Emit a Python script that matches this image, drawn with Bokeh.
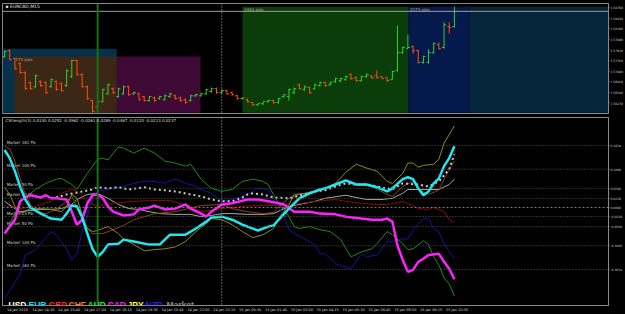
from bokeh.plotting import figure
from bokeh.models import Range1d, Span, Label, FixedTicker, PrintfTickFormatter, ColumnDataSource
from bokeh.layouts import column
from bokeh.embed import file_html
from bokeh.resources import INLINE
from bokeh.core.properties import value

# ---------------- price bars (EURCAD, M15) ----------------
OPEN = [1.5745,1.5760,1.5740,1.5727,1.5704,1.5679,1.5668,1.5681,1.5679,1.5668,
        1.5681,1.5676,1.5671,1.5694,1.5735,1.5699,1.5668,1.5633,1.5617,1.5630,
        1.5650,1.5663,1.5643,1.5650,1.5668,1.5650,1.5650,1.5643,1.5633,1.5640,
        1.5638,1.5635,1.5643,1.5645,1.5640,1.5635,1.5633,1.5645,1.5645,1.5650,
        1.5656,1.5663,1.5653,1.5658,1.5653,1.5645,1.5638,1.5635,1.5628,1.5622,
        1.5625,1.5630,1.5633,1.5628,1.5643,1.5643,1.5653,1.5673,1.5661,1.5666,
        1.5663,1.5671,1.5679,1.5673,1.5681,1.5684,1.5686,1.5699,1.5691,1.5684,
        1.5694,1.5696,1.5696,1.5694,1.5691,1.5686,1.5709,1.5755,1.5765,1.5770,
        1.5760,1.5730,1.5730,1.5755,1.5775,1.5768,1.5821,1.5821]
HIGH = [1.5760,1.5763,1.5742,1.5730,1.5707,1.5681,1.5699,1.5684,1.5681,1.5689,
        1.5684,1.5679,1.5712,1.5737,1.5737,1.5702,1.5671,1.5635,1.5633,1.5663,
        1.5676,1.5666,1.5666,1.5671,1.5671,1.5656,1.5653,1.5645,1.5645,1.5643,
        1.5645,1.5648,1.5653,1.5648,1.5643,1.5638,1.5648,1.5650,1.5653,1.5663,
        1.5666,1.5666,1.5661,1.5661,1.5656,1.5648,1.5640,1.5638,1.5628,1.5625,
        1.5630,1.5635,1.5635,1.5640,1.5648,1.5663,1.5666,1.5676,1.5671,1.5668,
        1.5676,1.5681,1.5681,1.5681,1.5691,1.5691,1.5696,1.5702,1.5694,1.5696,
        1.5702,1.5696,1.5709,1.5694,1.5691,1.5709,1.5824,1.5770,1.5801,1.5773,
        1.5763,1.5747,1.5763,1.5781,1.5781,1.5832,1.5832,1.5872]
LOW = [1.5742,1.5735,1.5712,1.5702,1.5661,1.5661,1.5666,1.5668,1.5650,1.5666,
       1.5658,1.5656,1.5668,1.5691,1.5696,1.5666,1.5635,1.5602,1.5615,1.5628,
       1.5648,1.5650,1.5640,1.5648,1.5645,1.5648,1.5633,1.5630,1.5630,1.5630,
       1.5635,1.5633,1.5640,1.5635,1.5630,1.5625,1.5630,1.5643,1.5643,1.5648,
       1.5653,1.5650,1.5650,1.5648,1.5645,1.5635,1.5635,1.5628,1.5620,1.5620,
       1.5622,1.5628,1.5625,1.5625,1.5640,1.5633,1.5650,1.5661,1.5658,1.5650,
       1.5661,1.5668,1.5668,1.5671,1.5679,1.5679,1.5684,1.5686,1.5681,1.5681,
       1.5691,1.5689,1.5689,1.5689,1.5681,1.5686,1.5707,1.5752,1.5765,1.5752,
       1.5727,1.5727,1.5727,1.5752,1.5763,1.5765,1.5804,1.5819]
CLOSE = [1.5758,1.5737,1.5714,1.5704,1.5663,1.5663,1.5696,1.5671,1.5653,1.5686,
         1.5661,1.5658,1.5709,1.5735,1.5699,1.5668,1.5638,1.5605,1.5630,1.5661,
         1.5673,1.5653,1.5663,1.5668,1.5648,1.5653,1.5635,1.5633,1.5643,1.5633,
         1.5643,1.5645,1.5650,1.5638,1.5633,1.5628,1.5645,1.5648,1.5650,1.5661,
         1.5663,1.5653,1.5658,1.5650,1.5648,1.5638,1.5640,1.5630,1.5622,1.5625,
         1.5630,1.5633,1.5628,1.5638,1.5648,1.5661,1.5663,1.5663,1.5668,1.5653,
         1.5673,1.5679,1.5671,1.5679,1.5689,1.5689,1.5694,1.5689,1.5684,1.5694,
         1.5699,1.5691,1.5691,1.5689,1.5684,1.5707,1.5755,1.5768,1.5768,1.5760,
         1.5730,1.5745,1.5755,1.5778,1.5765,1.5826,1.5819,1.5860]
BID = 1.5860
PRICE_TICKS = [1.5627,1.5654,1.5681,1.5708,1.5735,1.5762,1.5789,1.5816,1.5843,1.5870]

# session / zone boxes (bar index, price)
ZONE_LEFT  = [-0.4, 1.9, 21.7, 46.0, 78.1, 90.0]
ZONE_RIGHT = [21.7, 21.7, 37.9, 78.1, 90.0, 117.0]
ZONE_TOP   = [1.5765, 1.5745, 1.5745, 1.5872, 1.5872, 1.5872]
ZONE_COLOR = ["#07304a", "#3c2716", "#3f0936", "#0a3d0a", "#06194c", "#05263b"]
ZONE_TEXT_X = [2.1, 46.3, 78.4]
ZONE_TEXT_Y = [1.5744, 1.5871, 1.5871]
ZONE_TEXT = ["173 pips", "2463 pips", "2173 pips"]

# ---------------- currency strength (CStrength(3)) ----------------
USD_X = [9,10,12,14,17,18,20,22,24,27,29,31,33,36,38,40,42,44,46,47,48,50,52,55,58,60,62,64,66,68,70,72,75,77,80,82,84,86,87]
USD_V = [0.024,0.026,0.034,0.039,0.047,0.053,0.050,0.053,0.047,0.053,0.047,0.045,0.042,0.034,0.029,0.021,0.016,0.016,0.026,0.034,
         0.037,0.034,0.026,0.024,0.034,0.042,0.045,0.055,0.063,0.060,0.060,0.055,0.047,0.063,0.060,0.055,0.068,0.100,0.139]
EUR_X = [0,1,2,3,4,5,7,9,11,12,13,14,15,16,17,18,19,20,22,23,25,28,30,32,35,37,39,40,42,44,46,49,51,52,53,55,57,59,61,62,64,66,68,70,72,74,75,77,78,79,80,81,82,83,84,85,86,87]
EUR_V = [0.150,0.129,0.095,0.055,0.021,0.000,-0.016,-0.029,-0.032,-0.016,0.005,0.003,-0.026,-0.068,-0.108,-0.129,-0.116,-0.097,
         -0.095,-0.084,-0.089,-0.097,-0.097,-0.071,-0.071,-0.055,-0.037,-0.026,-0.024,-0.032,-0.045,-0.060,-0.050,-0.047,-0.032,-0.003,
         0.024,0.037,0.047,0.050,0.060,0.071,0.060,0.060,0.053,0.042,0.050,0.074,0.079,0.074,0.050,0.032,0.042,0.063,0.076,0.108,0.129,0.160]
GBP_X = [0,3,6,9,11,13,14,16,18,21,25,28,32,36,38,42,46,50,53,56,60,64,66,69,72,74,76,77,79,80,82,83,84,85,86,87]
GBP_V = [0.005,-0.003,0.003,0.016,0.037,0.047,0.042,0.016,0.003,0.011,0.016,0.018,0.018,0.003,-0.011,-0.003,0.003,0.005,0.005,0.008,
         0.016,0.021,0.016,0.011,0.008,0.008,0.013,0.016,0.005,-0.003,-0.005,0.000,-0.005,-0.011,-0.032,-0.039]
CHF_X = [0,1,2,3,4,5,6,8,10,12,13,14,16,17,19,21,23,25,27,29,33,38,42,44,47,50,52,53,55,57,59,62,64,66,68,71,74,75,77,79,80,82,84,85,86,87]
CHF_V = [0.160,0.153,0.121,0.076,0.034,0.008,-0.011,-0.016,-0.005,0.016,0.029,0.003,-0.055,-0.068,-0.068,-0.058,-0.047,-0.032,-0.024,-0.016,
         -0.011,0.005,0.008,-0.003,-0.011,-0.016,-0.013,0.003,0.024,0.034,0.037,0.047,0.060,0.068,0.060,0.055,0.034,0.029,0.055,0.068,
         0.047,0.034,0.045,0.074,0.100,0.121]
AUD_X = [0,2,3,6,8,10,11,13,14,16,18,19,20,22,23,25,27,29,31,33,35,36,38,40,42,44,46,48,50,51,52,53,55,56,57,59,61,63,65,67,69,71,72,74,75,77,78,79,81,82,83,84,85,86,87]
AUD_V = [-0.068,-0.016,0.016,0.047,0.063,0.074,0.076,0.060,0.047,0.089,0.126,0.129,0.124,0.158,0.155,0.142,0.155,0.142,0.121,0.116,
         0.108,0.113,0.074,0.050,0.042,0.047,0.068,0.074,0.068,0.060,0.034,0.011,-0.024,-0.050,-0.055,-0.050,-0.058,-0.063,-0.084,-0.129,
         -0.116,-0.108,-0.095,-0.063,-0.071,-0.095,-0.110,-0.108,-0.087,-0.097,-0.129,-0.150,-0.184,-0.200,-0.231]
CAD_X = [0,2,3,4,5,7,8,9,10,12,13,14,15,16,17,18,19,20,21,23,25,26,28,29,31,33,35,36,38,39,40,42,44,47,49,51,53,54,56,59,61,64,66,69,71,73,74,75,76,77,78,79,80,81,82,84,85,86,87]
CAD_V = [-0.068,-0.032,0.016,0.026,0.032,0.026,0.032,0.024,0.024,0.021,-0.011,-0.045,-0.032,0.011,0.032,0.034,0.024,0.003,-0.011,-0.021,
         -0.018,-0.005,0.000,0.005,-0.005,-0.003,0.008,-0.003,-0.016,-0.024,-0.011,0.008,0.011,0.021,0.021,0.016,0.011,0.008,-0.011,-0.011,
         -0.016,-0.018,-0.024,-0.029,-0.032,-0.032,-0.029,-0.037,-0.100,-0.137,-0.168,-0.163,-0.142,-0.134,-0.124,-0.121,-0.142,-0.160,-0.187]
JPY_X = [0,1,2,3,5,7,9,11,12,13,14,15,16,17,18,20,22,23,25,27,29,31,33,35,37,39,40,42,44,46,48,50,52,53,55,56,58,60,62,64,66,68,70,72,74,75,77,78,79,80,81,83,84,85,87]
JPY_V = [0.053,0.034,0.003,-0.016,-0.003,-0.003,-0.005,-0.011,0.003,0.034,0.024,-0.018,-0.055,-0.063,-0.060,-0.050,-0.068,-0.082,-0.097,-0.113,
         -0.110,-0.108,-0.103,-0.089,-0.063,-0.042,-0.029,-0.032,-0.045,-0.063,-0.079,-0.071,-0.055,-0.029,0.008,0.034,0.037,0.042,0.050,0.063,
         0.092,0.113,0.103,0.095,0.068,0.063,0.089,0.116,0.116,0.105,0.110,0.113,0.126,0.168,0.213]
NZD_X = [0,3,4,6,9,10,12,13,14,15,16,17,18,20,23,25,27,29,31,33,35,37,38,40,42,44,47,49,51,52,54,55,56,58,60,61,62,64,67,69,70,72,74,75,77,78,79,81,82,83,84,85,87]
NZD_V = [-0.239,-0.174,-0.124,-0.110,-0.063,-0.071,-0.108,-0.137,-0.121,-0.063,-0.024,0.029,0.042,0.047,0.055,0.063,0.068,0.068,0.063,0.074,
         0.063,0.055,0.047,0.037,0.016,0.021,0.034,0.050,0.047,0.024,-0.024,-0.058,-0.068,-0.082,-0.097,-0.121,-0.121,-0.147,-0.160,-0.121,
         -0.129,-0.124,-0.089,-0.089,-0.082,-0.082,-0.058,-0.029,-0.029,-0.055,-0.063,-0.095,-0.134]
MKT_X = [0,2,3,7,9,11,13,14,16,18,20,22,24,26,28,30,33,36,38,40,42,44,47,50,52,55,57,60,62,66,68,70,73,75,77,78,80,84,86,87]
MKT_V = [0.016,-0.003,-0.011,-0.005,-0.005,-0.003,0.008,0.021,0.034,0.037,0.024,0.008,-0.003,-0.005,-0.011,-0.016,-0.018,-0.018,-0.024,-0.021,
         -0.016,-0.016,-0.018,-0.018,-0.016,0.003,0.008,0.016,0.024,0.032,0.026,0.021,0.021,0.024,0.037,0.047,0.047,0.047,0.060,0.074]

LEVELS = [0.1618, 0.1, 0.05, 0.0236, -0.0236, -0.05, -0.1, -0.1618]
LEVEL_TEXT = ["Market 161 Pb", "Market 100 Pb", "Market 50 Pb", "Market 23 Pb",
              "Market 23 Pb", "Market 50 Pb", "Market 100 Pb", "Market 161 Pb"]
IND_TITLE = "CStrength(3) 0.0140 0.0252 -0.0962 -0.0261 0.0289 -0.0467 -0.0120 -0.0213 0.0237"

LEGEND_NAMES = ["USD", "EUR", "GBP", "CHF", "AUD", "CAD", "JPY", "NZD", "Market"]
LEGEND_COLORS = ["#ffffff", "#00e1ff", "#ff2020", "#ff7a1a", "#22ee22", "#ff20ff", "#ffff20", "#2020ff", "#8a8a8a"]

TIME_BARS = [0,5,10,15,20,25,30,35,40,45,50,55,60,65,70,75,80,85]
TIME_LABELS = ["14 Jan 2016","14 Jan 14:30","14 Jan 15:45","14 Jan 17:00","14 Jan 18:15","14 Jan 19:30",
               "14 Jan 20:45","14 Jan 22:00","14 Jan 23:15","15 Jan 00:30","15 Jan 01:45","15 Jan 03:00",
               "15 Jan 04:15","15 Jan 05:30","15 Jan 06:45","15 Jan 08:00","15 Jan 09:15","15 Jan 10:30"]
VLINE_BAR = 18
VLINE_LABEL = "14 Jan 17:45"
DOTTED_BAR = 42

GRAY = "#8a8a8a"
FONT = "DejaVu Sans"
X_RANGE = Range1d(-0.4, 116.8)


def style_right_axis(ax, ticks, fmt):
    ax.ticker = FixedTicker(ticks=ticks)
    ax.formatter = PrintfTickFormatter(format=fmt)
    ax.major_label_text_font_size = "3px"
    ax.major_label_text_font = FONT
    ax.major_label_text_color = "#d0d0d0"
    ax.axis_line_color = GRAY
    ax.major_tick_line_color = GRAY
    ax.major_tick_out = 1
    ax.major_tick_in = 0
    ax.minor_tick_out = 0
    ax.minor_tick_in = 0
    ax.major_label_standoff = 1


# ================= top panel =================
top = figure(width=625, height=115, x_range=X_RANGE, y_range=Range1d(1.5600, 1.5880),
             output_backend="svg", toolbar_location=None, x_axis_location=None,
             y_axis_location="right", min_border_left=2, min_border_right=14,
             min_border_top=3, min_border_bottom=2,
             background_fill_color="black", border_fill_color="black",
             outline_line_color=GRAY)
top.grid.visible = False

top.quad(left=ZONE_LEFT, right=ZONE_RIGHT, top=ZONE_TOP, bottom=[1.5602] * len(ZONE_TOP),
         fill_color=ZONE_COLOR, line_color=None)
top.text(x=ZONE_TEXT_X, y=ZONE_TEXT_Y, text=ZONE_TEXT, text_font=value(FONT),
         text_font_size="4px", text_color="#b8a888", text_baseline="top")

idx = list(range(len(OPEN)))
bar_col = ["#30d030" if c >= o else "#ff500a" for o, c in zip(OPEN, CLOSE)]
src = ColumnDataSource(dict(x=idx, xl=[i - 0.4 for i in idx], xr=[i + 0.4 for i in idx],
                            o=OPEN, h=HIGH, l=LOW, c=CLOSE, col=bar_col))
top.segment(x0="x", y0="l", x1="x", y1="h", line_color="col", line_width=1, source=src)
top.segment(x0="xl", y0="o", x1="x", y1="o", line_color="col", line_width=1, source=src)
top.segment(x0="x", y0="c", x1="xr", y1="c", line_color="col", line_width=1, source=src)

top.add_layout(Span(location=BID, dimension="width", line_color="#9c9c9c", line_width=1))
top.add_layout(Span(location=VLINE_BAR, dimension="height", line_color="#157015", line_width=2))
top.add_layout(Span(location=DOTTED_BAR, dimension="height", line_color="#b0b0b0",
                    line_width=1, line_dash="1 2"))
top.add_layout(Label(x=0.2, y=1.58795, text="\u25aa EURCAD,M15", text_font=FONT,
                     text_font_size="4.5px", text_color="#e0e0e0", text_baseline="top"))
top.add_layout(Label(x=116.8, y=BID, text="1.58600", text_font=FONT, text_font_size="3px",
                     text_color="black", text_baseline="middle", x_offset=1,
                     background_fill_color="#e6e6e6", level="overlay"))

style_right_axis(top.yaxis[0], PRICE_TICKS, "%.5f")

# ================= bottom panel =================
bot = figure(width=625, height=199, x_range=X_RANGE, y_range=Range1d(-0.256, 0.235),
             output_backend="svg", toolbar_location=None, x_axis_location="below",
             y_axis_location="right", min_border_left=2, min_border_right=14,
             min_border_top=2, min_border_bottom=8,
             background_fill_color="black", border_fill_color="black",
             outline_line_color=GRAY)
bot.grid.visible = False

for lv in LEVELS:
    bot.add_layout(Span(location=lv, dimension="width", line_color="#5c5c5c",
                        line_width=1, line_dash="1 2"))
bot.add_layout(Span(location=0, dimension="width", line_color="#7a7a7a",
                    line_width=1, line_dash="2 2"))
bot.text(x=[0.4] * len(LEVELS), y=LEVELS, text=LEVEL_TEXT, text_font=value(FONT),
         text_font_size="4px", text_color="#cfcfcf", text_baseline="bottom", y_offset=-1)

bot.add_layout(Span(location=VLINE_BAR, dimension="height", line_color="#157015", line_width=2))
bot.add_layout(Span(location=DOTTED_BAR, dimension="height", line_color="#b0b0b0",
                    line_width=1, line_dash="1 2"))

bot.line(MKT_X, MKT_V, line_color="#a8a8a8", line_width=1)
bot.line(GBP_X, GBP_V, line_color="#8c0a0a", line_width=1)
bot.line(CHF_X, CHF_V, line_color="#8a4216", line_width=1)
bot.line(JPY_X, JPY_V, line_color="#8c8c10", line_width=1)
bot.line(NZD_X, NZD_V, line_color="#1414a0", line_width=1)
bot.line(AUD_X, AUD_V, line_color="#1a8c1a", line_width=1)
bot.line(USD_X, USD_V, line_color="#c8c8c8", line_width=2, line_dash="2 3")
bot.line(CAD_X, CAD_V, line_color="#ff22ff", line_width=2.5)
bot.line(EUR_X, EUR_V, line_color="#1ee8f2", line_width=2.5)

bot.add_layout(Label(x=0.2, y=0.234, text=IND_TITLE, text_font=FONT, text_font_size="4px",
                     text_color="#dcdcdc", text_baseline="top"))

LEG_X = [6, 26, 46, 66, 85, 105, 125, 143, 164]
for name, col, lx in zip(LEGEND_NAMES, LEGEND_COLORS, LEG_X):
    bot.add_layout(Label(x=lx, y=1, x_units="screen", y_units="screen", text=name,
                         text_font="Liberation Sans", text_font_style="bold",
                         text_font_size="8.5px", text_color=col, text_baseline="alphabetic"))

bot.add_layout(Label(x=VLINE_BAR, y=-1, y_units="screen", text=VLINE_LABEL, text_font=FONT,
                     text_font_size="3.5px", text_color="white", text_align="center",
                     text_baseline="top", background_fill_color="#1f8a1f", level="overlay"))

style_right_axis(bot.yaxis[0], LEVELS + [0.0], "%.4f")

bx = bot.xaxis[0]
bx.ticker = FixedTicker(ticks=[b + 2.5 for b in TIME_BARS])
bx.major_label_overrides = {b + 2.5: t for b, t in zip(TIME_BARS, TIME_LABELS)}
bx.major_label_text_font_size = "3.5px"
bx.major_label_text_font = FONT
bx.major_label_text_color = "#d0d0d0"
bx.axis_line_color = GRAY
bx.major_tick_out = 0
bx.major_tick_in = 0
bx.minor_tick_out = 0
bx.minor_tick_in = 0
bx.major_label_standoff = 2

layout = column(top, bot, spacing=0, styles={"background-color": "black"})
html = file_html(layout, INLINE, title="EURCAD M15 - CStrength")
html = html.replace("<body>", '<body style="margin:0;background:black;">')
open("out.html", "w").write(html)
